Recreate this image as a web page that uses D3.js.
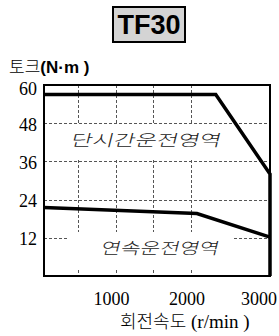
<!DOCTYPE html>
<html>
<head>
<meta charset="utf-8">
<script src="https://cdn.jsdelivr.net/npm/d3@7"></script>
<style>
  html, body { margin: 0; padding: 0; background: #fff; }
  svg { display: block; }
</style>
</head>
<body>
<svg id="chart" width="279" height="336"></svg>
<script>
// motor torque curve TF30
const titleText = "TF30";
const yTicks = [12, 24, 36, 48, 60];
const xTickLabels = [1000, 2000, 3000];
const xGrid = [500, 1000, 1500, 2000];
// peak (short time) torque curve: [rpm, N·m]
const peakRpm = [50, 2330, 3050, 3050];
const peakTorque = [57, 57, 32, 0];
// continuous torque curve
const contRpm = [50, 2080, 3050];
const contTorque = [21.5, 19.6, 12.2];
const zoneLabels = ["단시간운전영역", "연속운전영역"];

const svg = d3.select("#chart");
const W = 279;
const plotLeft = 44, plotRight = 270, plotTop = 85, plotBottom = 276;
const serif = "'Liberation Serif'";
const sans = "'Liberation Sans'";
const kr = "'Noto Sans CJK KR'";

let x = d3.scaleLinear().domain([50, 3050]).range([plotLeft, plotRight]);
let y = d3.scaleLinear().domain([0, 60]).range([plotBottom, plotTop]);

// title box
let tb = svg.append("g");
tb.append("rect")
	.attr("x", 113).attr("y", 7)
	.attr("width", 72).attr("height", 35)
	.style("fill", "#d4d4d4")
	.style("stroke", "#000")
	.style("stroke-width", 2);
tb.append("text").text(titleText)
	.attr("x", 149).attr("y", 34)
	.style("font-family", sans)
	.style("font-weight", "bold")
	.style("font-size", "27px")
	.style("text-anchor", "middle");

// y axis title
let yt = svg.append("text")
	.attr("x", 9).attr("y", 73)
	.style("font-size", "17px");
yt.append("tspan").text("토크")
	.style("font-family", kr)
	.style("font-weight", 300);
yt.append("tspan").text("(N·m )")
	.style("font-family", sans)
	.style("font-weight", "bold");

// grid
let grid = svg.append("g")
	.style("stroke", "#555")
	.style("stroke-width", 1)
	.style("stroke-dasharray", "3,2");
grid.selectAll("line.h").data(yTicks.filter(d => d < 60)).enter().append("line")
	.attr("x1", plotLeft).attr("x2", plotRight)
	.attr("y1", d => Math.round(y(d)) + 0.5)
	.attr("y2", d => Math.round(y(d)) + 0.5);
grid.selectAll("line.v").data(xGrid).enter().append("line")
	.attr("y1", plotTop).attr("y2", plotBottom)
	.attr("x1", d => Math.round(x(d)) + 0.5)
	.attr("x2", d => Math.round(x(d)) + 0.5);

// white boxes behind zone labels
svg.append("rect").attr("x", 67).attr("y", 125).attr("width", 158).attr("height", 35).style("fill", "#fff");
svg.append("rect").attr("x", 67).attr("y", 232).attr("width", 167).attr("height", 38).style("fill", "#fff");

// zone labels (fake italic with skew)
function zoneLabel(txt, lx, ly, len) {
	svg.append("g")
		.attr("transform", "translate(" + lx + "," + ly + ") skewX(-14)")
		.append("text").text(txt)
		.attr("x", 0).attr("y", 0)
		.attr("textLength", len).attr("lengthAdjust", "spacingAndGlyphs")
		.style("font-family", kr)
		.style("font-size", "16px")
		.style("font-weight", 300)
		.style("fill", "#222");
}
zoneLabel(zoneLabels[0], 70, 146, 150);
zoneLabel(zoneLabels[1], 100, 254, 118);

// frame
svg.append("rect")
	.attr("x", plotLeft).attr("y", plotTop)
	.attr("width", plotRight - plotLeft).attr("height", plotBottom - plotTop)
	.style("fill", "none")
	.style("stroke", "#000")
	.style("stroke-width", 2);

// curves
let line = d3.line().x(d => x(d[0])).y(d => y(d[1]));
svg.append("path")
	.attr("d", line(d3.zip(peakRpm, peakTorque)))
	.style("fill", "none")
	.style("stroke", "#000")
	.style("stroke-width", 3.5);
svg.append("path")
	.attr("d", line(d3.zip(contRpm, contTorque)))
	.style("fill", "none")
	.style("stroke", "#000")
	.style("stroke-width", 3.5);

// y tick labels
svg.selectAll("text.ytick").data(yTicks).enter().append("text")
	.attr("class", "ytick")
	.text(d => d)
	.attr("x", 37)
	.attr("y", d => Math.max(y(d) + 1, plotTop + 4))
	.attr("dy", "0.35em")
	.style("font-family", serif)
	.style("font-size", "18px")
	.style("text-anchor", "end");

// x tick labels
svg.selectAll("text.xtick").data(xTickLabels).enter().append("text")
	.attr("class", "xtick")
	.text(d => d)
	.attr("x", (d, i) => i === xTickLabels.length - 1 ? W - 2 : x(d) - 4)
	.attr("y", 305)
	.style("font-family", serif)
	.style("font-size", "18px")
	.style("text-anchor", (d, i) => i === xTickLabels.length - 1 ? "end" : "middle");

// x axis title
let xt = svg.append("text")
	.attr("x", 120).attr("y", 328)
	.style("font-size", "18px");
xt.append("tspan").text("회전속도")
	.style("font-family", kr)
	.style("font-weight", 300);
xt.append("tspan").text(" (r/min )")
	.style("font-family", serif)
	.style("font-size", "19px");
</script>
</body>
</html>
